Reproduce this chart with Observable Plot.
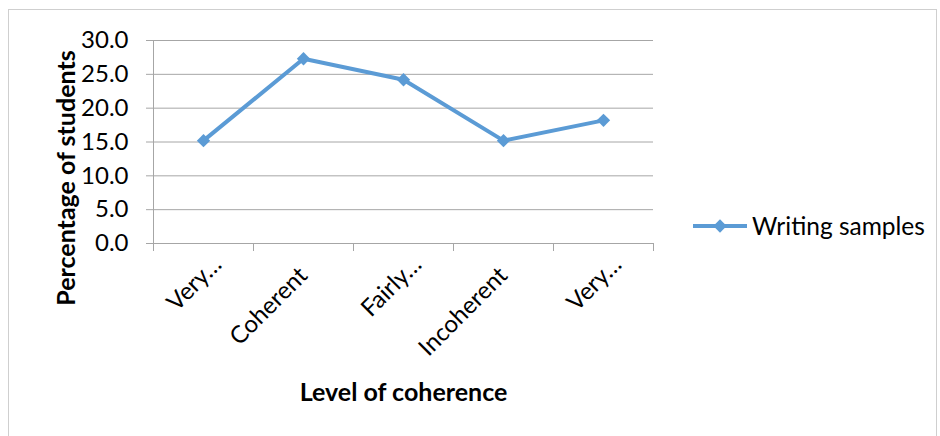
<!DOCTYPE html>
<html><head><meta charset="utf-8">
<script src="https://cdn.jsdelivr.net/npm/d3@7"></script>
<script src="https://cdn.jsdelivr.net/npm/@observablehq/plot@0.6"></script>
<style>
body{margin:0;background:#fff;font-family:Lato, "Open Sans", sans-serif;}
#wrap{position:relative;width:940px;height:436px;overflow:hidden;background:#fff;}
#border{position:absolute;left:8px;top:9px;width:929px;height:440px;border:1px solid #cfcfcf;box-sizing:border-box;}
#chart{position:absolute;left:0;top:0;}
#legend{position:absolute;left:693px;top:211px;height:30px;display:flex;align-items:center;font-size:24.5px;line-height:30px;color:#000;font-family:Lato,sans-serif;}
#legend svg{margin-right:5px;}
</style></head>
<body><div id="wrap"><div id="border"></div><div id="chart"></div><div id="legend"></div></div>
<script>
const categories = ["Very coherent", "Coherent", "Fairly coherent", "Incoherent", "Very incoherent"];
const tickLabels = ["Very…", "Coherent", "Fairly…", "Incoherent", "Very…"];
const values = [15.2, 27.3, 24.2, 15.2, 18.2];
const yTicks = [0, 5, 10, 15, 20, 25, 30];
const seriesName = "Writing samples";
const xTitle = "Level of coherence";
const yTitle = "Percentage of students";

const color = "#5B9BD5";
const gridColor = "#a6a6a6";
const data = categories.map((c, i) => ({category: c, value: values[i]}));
const labelOf = new Map(categories.map((c, i) => [c, tickLabels[i]]));
const truncated = categories.filter(c => labelOf.get(c).endsWith("…"));
const full = categories.filter(c => !labelOf.get(c).endsWith("…"));

// ticks at band boundaries (Excel style), drawn using the library's x scale
function boundaryTicks(index, scales, values, dimensions) {
  const g = d3.create("svg:g").attr("stroke", gridColor).attr("stroke-width", 1);
  const y0 = scales.y(0);
  const edges = categories.map(c => scales.x(c));
  edges.push(dimensions.width - dimensions.marginRight);
  for (const e of edges) {
    g.append("line").attr("x1", Math.round(e) + 0.5).attr("x2", Math.round(e) + 0.5)
      .attr("y1", y0).attr("y2", y0 + 8);
  }
  return g.node();
}

const chart = Plot.plot({
  width: 940,
  height: 436,
  marginLeft: 153,
  marginRight: 287,
  marginTop: 40,
  marginBottom: 193,
  style: {fontFamily: "Lato, sans-serif", fontSize: "24px", color: "#000", background: "transparent", overflow: "visible"},
  x: {type: "band", domain: categories, padding: 0, label: null},
  y: {domain: [0, 30], label: null},
  marks: [
    Plot.gridY(yTicks, {stroke: gridColor, strokeOpacity: 1}),
    Plot.axisY(yTicks, {
      tickFormat: d => d.toFixed(1), tickSize: 7, tickPadding: 18, stroke: gridColor,
      fontSize: 24, fill: "#000", label: null
    }),
    Plot.frame({anchor: "left", stroke: gridColor}),
    Plot.ruleY([0], {stroke: gridColor}),
    Plot.axisX(full, {
      tickSize: 0, tickPadding: 28, dx: 0, tickRotate: -45, tickFormat: d => labelOf.get(d),
      fontSize: 24, fill: "#000", label: null
    }),
    Plot.axisX(truncated, {
      tickSize: 0, tickPadding: 17, dx: 14, tickRotate: -45, tickFormat: d => labelOf.get(d),
      fontSize: 24, fill: "#000", label: null
    }),
    boundaryTicks,
    Plot.text([yTitle], {frameAnchor: "left", textAnchor: "middle", lineAnchor: "middle", rotate: -90, dx: -87, dy: 36, fontSize: 25, fontWeight: "bold", fill: "#000"}),
    Plot.text([xTitle], {frameAnchor: "bottom", textAnchor: "middle", lineAnchor: "middle", dy: 149, fontSize: 25, fontWeight: "bold", fill: "#000"}),
    Plot.line(data, {x: "category", y: "value", stroke: color, strokeWidth: 4}),
    Plot.dot(data, {x: "category", y: "value", symbol: "diamond2", r: 6, fill: color, stroke: "none"})
  ]
});
document.getElementById("chart").append(chart);

// legend
const legend = document.getElementById("legend");
const sw = d3.create("svg").attr("width", 54).attr("height", 16);
sw.append("line").attr("x1", 0).attr("x2", 54).attr("y1", 8).attr("y2", 8)
  .attr("stroke", color).attr("stroke-width", 4);
sw.append("path").attr("d", d3.symbol(d3.symbolDiamond2, Math.PI * 36)()).attr("transform", "translate(27,8)")
  .attr("fill", color);
legend.append(sw.node());
const lt = document.createElement("span");
lt.textContent = seriesName;
legend.append(lt);
</script>
</body></html>
